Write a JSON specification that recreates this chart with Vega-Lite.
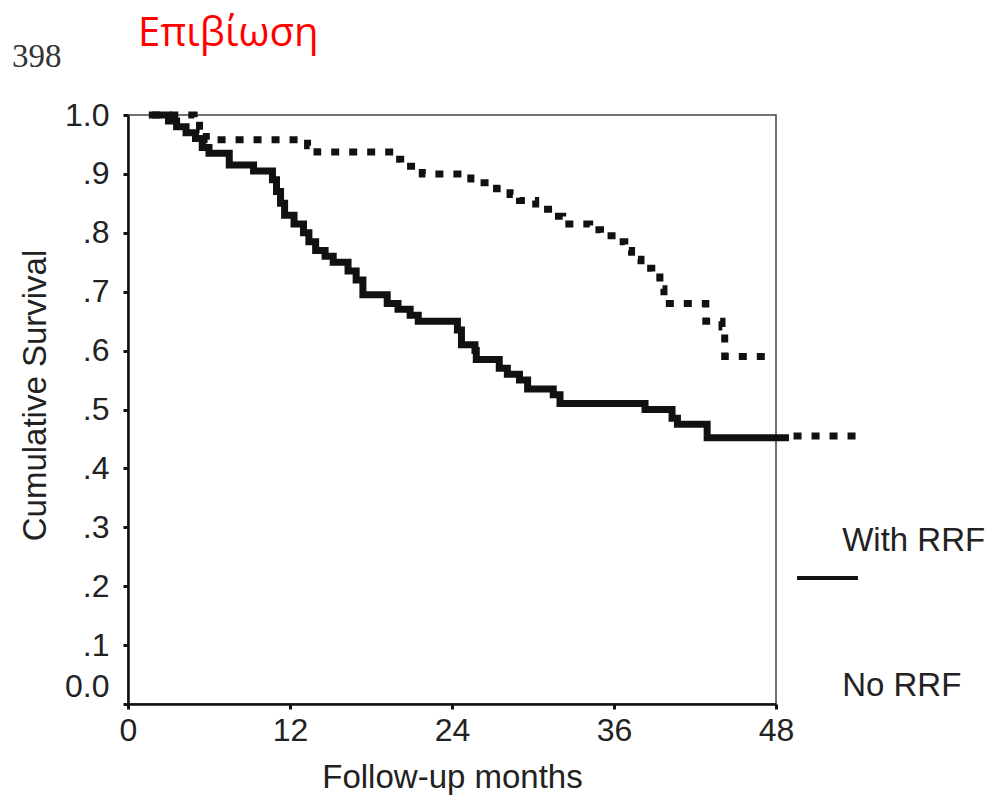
{
  "$schema": "https://vega.github.io/schema/vega-lite/v6.json",
  "width": 648,
  "height": 589,
  "autosize": "none",
  "padding": {"left": 128, "top": 115, "right": 218, "bottom": 100},
  "background": "white",
  "config": {
    "view": {"stroke": "#444", "strokeWidth": 1.5},
    "font": "Liberation Sans"
  },
  "datasets": {
    "km": [
      {"group": "With RRF", "month": 1.8, "surv": 1.0},
      {"group": "With RRF", "month": 3.0, "surv": 0.99},
      {"group": "With RRF", "month": 3.6, "surv": 0.98},
      {"group": "With RRF", "month": 4.3, "surv": 0.97},
      {"group": "With RRF", "month": 5.0, "surv": 0.96},
      {"group": "With RRF", "month": 5.5, "surv": 0.945},
      {"group": "With RRF", "month": 6.0, "surv": 0.935},
      {"group": "With RRF", "month": 7.5, "surv": 0.915},
      {"group": "With RRF", "month": 9.3, "surv": 0.905},
      {"group": "With RRF", "month": 10.7, "surv": 0.89},
      {"group": "With RRF", "month": 11.0, "surv": 0.87},
      {"group": "With RRF", "month": 11.3, "surv": 0.85},
      {"group": "With RRF", "month": 11.6, "surv": 0.83},
      {"group": "With RRF", "month": 12.3, "surv": 0.815},
      {"group": "With RRF", "month": 13.0, "surv": 0.8},
      {"group": "With RRF", "month": 13.4, "surv": 0.785},
      {"group": "With RRF", "month": 13.9, "surv": 0.77},
      {"group": "With RRF", "month": 14.6, "surv": 0.76},
      {"group": "With RRF", "month": 15.2, "surv": 0.75},
      {"group": "With RRF", "month": 16.3, "surv": 0.735},
      {"group": "With RRF", "month": 16.9, "surv": 0.72},
      {"group": "With RRF", "month": 17.4, "surv": 0.695},
      {"group": "With RRF", "month": 19.2, "surv": 0.68},
      {"group": "With RRF", "month": 20.0, "surv": 0.67},
      {"group": "With RRF", "month": 20.9, "surv": 0.66},
      {"group": "With RRF", "month": 21.5, "surv": 0.65},
      {"group": "With RRF", "month": 24.4, "surv": 0.635},
      {"group": "With RRF", "month": 24.7, "surv": 0.61},
      {"group": "With RRF", "month": 25.7, "surv": 0.6},
      {"group": "With RRF", "month": 25.8, "surv": 0.585},
      {"group": "With RRF", "month": 27.5, "surv": 0.57},
      {"group": "With RRF", "month": 28.1, "surv": 0.56},
      {"group": "With RRF", "month": 29.0, "surv": 0.55},
      {"group": "With RRF", "month": 29.6, "surv": 0.535},
      {"group": "With RRF", "month": 31.5, "surv": 0.525},
      {"group": "With RRF", "month": 32.0, "surv": 0.51},
      {"group": "With RRF", "month": 38.3, "surv": 0.5},
      {"group": "With RRF", "month": 40.3, "surv": 0.485},
      {"group": "With RRF", "month": 40.7, "surv": 0.475},
      {"group": "With RRF", "month": 42.9, "surv": 0.452},
      {"group": "With RRF", "month": 48.7, "surv": 0.452},
      {"group": "No RRF", "month": 1.8, "surv": 1.0},
      {"group": "No RRF", "month": 4.9, "surv": 0.99},
      {"group": "No RRF", "month": 5.3, "surv": 0.975},
      {"group": "No RRF", "month": 5.8, "surv": 0.958},
      {"group": "No RRF", "month": 13.3, "surv": 0.948},
      {"group": "No RRF", "month": 14.0, "surv": 0.937},
      {"group": "No RRF", "month": 19.7, "surv": 0.925},
      {"group": "No RRF", "month": 20.2, "surv": 0.913},
      {"group": "No RRF", "month": 21.8, "surv": 0.9},
      {"group": "No RRF", "month": 25.0, "surv": 0.893},
      {"group": "No RRF", "month": 25.4, "surv": 0.885},
      {"group": "No RRF", "month": 27.3, "surv": 0.875},
      {"group": "No RRF", "month": 28.3, "surv": 0.865},
      {"group": "No RRF", "month": 29.0, "surv": 0.855},
      {"group": "No RRF", "month": 30.2, "surv": 0.84},
      {"group": "No RRF", "month": 31.5, "surv": 0.828},
      {"group": "No RRF", "month": 32.2, "surv": 0.815},
      {"group": "No RRF", "month": 34.2, "surv": 0.805},
      {"group": "No RRF", "month": 35.0, "surv": 0.795},
      {"group": "No RRF", "month": 36.3, "surv": 0.785},
      {"group": "No RRF", "month": 36.8, "surv": 0.77},
      {"group": "No RRF", "month": 37.3, "surv": 0.755},
      {"group": "No RRF", "month": 38.0, "surv": 0.74},
      {"group": "No RRF", "month": 38.8, "surv": 0.725},
      {"group": "No RRF", "month": 39.4, "surv": 0.705},
      {"group": "No RRF", "month": 39.7, "surv": 0.68},
      {"group": "No RRF", "month": 42.8, "surv": 0.65},
      {"group": "No RRF", "month": 44.0, "surv": 0.64},
      {"group": "No RRF", "month": 44.2, "surv": 0.59},
      {"group": "No RRF", "month": 47.6, "surv": 0.59},
      {"group": "No RRF key", "month": 49.3, "surv": 0.455},
      {"group": "No RRF key", "month": 54.3, "surv": 0.455}
    ]
  },
  "data": {"name": "km"},
  "layer": [
    {
      "transform": [{"filter": "datum.group === 'With RRF'"}],
      "mark": {"type": "line", "interpolate": "step-after", "color": "#111", "strokeWidth": 7, "clip": false, "strokeCap": "square"},
      "encoding": {
        "x": {
          "field": "month", "type": "quantitative",
          "scale": {"domain": [0, 48], "nice": false},
          "axis": {
            "values": [0, 12, 24, 36, 48],
            "title": "Follow-up months",
            "titleFont": "Liberation Sans", "titleFontSize": 33, "titleFontWeight": "normal", "titleColor": "#222",
            "titlePadding": 15,
            "labelFont": "Liberation Sans", "labelFontSize": 32, "labelColor": "#222",
            "labelPadding": 6, "labelFlush": false,
            "tickSize": 5, "tickWidth": 3, "tickColor": "#111",
            "domainColor": "#111", "domainWidth": 2.5, "grid": false
          }
        },
        "y": {
          "field": "surv", "type": "quantitative",
          "scale": {"domain": [0, 1], "nice": false},
          "axis": {
            "values": [0, 0.1, 0.2, 0.3, 0.4, 0.5, 0.6, 0.7, 0.8, 0.9, 1.0],
            "labelExpr": "datum.value == 0 ? '0.0' : datum.value == 1 ? '1.0' : '.' + format(datum.value * 10, 'd')",
            "labelOffset": {"condition": {"test": "datum.value == 0", "value": -18}, "value": 0},
            "title": "Cumulative Survival",
            "titleFont": "Liberation Sans", "titleFontSize": 33, "titleFontWeight": "normal", "titleColor": "#222",
            "titlePadding": 12, "titleY": 280,
            "labelFont": "Liberation Sans", "labelFontSize": 32, "labelColor": "#222",
            "labelPadding": 14, "labelFlush": false,
            "tickSize": 5, "tickWidth": 3, "tickColor": "#111",
            "domainColor": "#111", "domainWidth": 2.5, "grid": false
          }
        }
      }
    },
    {
      "transform": [{"filter": "datum.group === 'No RRF'"}],
      "mark": {"type": "line", "interpolate": "step-after", "color": "#111", "strokeWidth": 7, "strokeDash": [8, 10], "clip": false},
      "encoding": {
        "x": {"field": "month", "type": "quantitative"},
        "y": {"field": "surv", "type": "quantitative"}
      }
    },
    {
      "transform": [{"filter": "datum.group === 'No RRF key'"}],
      "mark": {"type": "line", "color": "#111", "strokeWidth": 7, "strokeDash": [8, 10], "clip": false},
      "encoding": {
        "x": {"field": "month", "type": "quantitative"},
        "y": {"field": "surv", "type": "quantitative"}
      }
    },
    {
      "data": {"values": [{}]},
      "mark": {"type": "rule", "color": "#111", "strokeWidth": 4, "clip": false},
      "encoding": {
        "x": {"datum": 49.56, "type": "quantitative"},
        "x2": {"datum": 54.07},
        "y": {"datum": 0.214, "type": "quantitative"}
      }
    },
    {
      "data": {"values": [{}]},
      "mark": {"type": "text", "font": "Liberation Sans", "fontSize": 33, "color": "#222", "align": "left", "baseline": "middle", "clip": false},
      "encoding": {
        "x": {"datum": 52.9, "type": "quantitative"},
        "y": {"datum": 0.277, "type": "quantitative"},
        "text": {"value": "With RRF"}
      }
    },
    {
      "data": {"values": [{}]},
      "mark": {"type": "text", "font": "Liberation Sans", "fontSize": 33, "color": "#222", "align": "left", "baseline": "middle", "clip": false},
      "encoding": {
        "x": {"datum": 52.9, "type": "quantitative"},
        "y": {"datum": 0.031, "type": "quantitative"},
        "text": {"value": "No RRF"}
      }
    },
    {
      "data": {"values": [{}]},
      "mark": {"type": "text", "font": "Open Sans", "fontSize": 40, "color": "#ff0000", "align": "left", "baseline": "alphabetic", "clip": false},
      "encoding": {
        "x": {"datum": 0.74, "type": "quantitative"},
        "y": {"datum": 1.117, "type": "quantitative"},
        "text": {"value": "Επιβίωση"}
      }
    },
    {
      "data": {"values": [{}]},
      "mark": {"type": "text", "font": "Liberation Serif", "fontSize": 33, "color": "#333", "align": "left", "baseline": "middle", "clip": false},
      "encoding": {
        "x": {"datum": -8.6, "type": "quantitative"},
        "y": {"datum": 1.098, "type": "quantitative"},
        "text": {"value": "398"}
      }
    }
  ]
}
